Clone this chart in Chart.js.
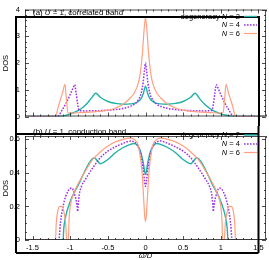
<!DOCTYPE html>
<html>
<head>
<meta charset="utf-8">
<script src="https://cdn.jsdelivr.net/npm/chart.js@4"></script>
<style>
  html, body { margin: 0; padding: 0; background: #fff; }
  #wrap { position: relative; width: 269px; height: 260px; }
  .panel { position: absolute; left: 0; width: 269px; }
</style>
</head>
<body>
<div id="wrap">
  <div class="panel" style="top:0;height:126px"><canvas id="corr" width="269" height="126"></canvas></div>
  <div class="panel" style="top:126px;height:134px"><canvas id="cond" width="269" height="134"></canvas></div>
</div>
<script>
// --- DATA ---
const xTickVals = [-1.5, -1, -0.5, 0, 0.5, 1, 1.5];
const yTicksCorr = [0, 1, 2, 3, 4];
const yTicksCond = [0, 0.2, 0.4, 0.6];
const degLabels = ['2', '4', '6'];

// (a) correlated band
const corrX_N2 = [-1.6, -1.15, -1.05, -0.95, -0.85, -0.78, -0.72, -0.66, -0.6, -0.5, -0.4, -0.3, -0.2, -0.12, -0.06, -0.03, 0, 0.03, 0.06, 0.12, 0.2, 0.3, 0.4, 0.5, 0.6, 0.66, 0.72, 0.8, 0.9, 1.0, 1.1, 1.15, 1.6];
const corrY_N2 = [0, 0, 0.05, 0.15, 0.3, 0.48, 0.68, 0.87, 0.72, 0.56, 0.49, 0.46, 0.47, 0.52, 0.66, 0.85, 1.13, 0.85, 0.66, 0.52, 0.47, 0.46, 0.49, 0.56, 0.72, 0.87, 0.66, 0.42, 0.22, 0.1, 0.03, 0, 0];

const corrX_N4 = [-1.6, -1.17, -1.1, -1.05, -1.0, -0.96, -0.94, -0.92, -0.9, -0.88, -0.8, -0.6, -0.4, -0.3, -0.2, -0.15, -0.1, -0.06, -0.03, -0.015, 0, 0.015, 0.03, 0.06, 0.1, 0.15, 0.2, 0.3, 0.4, 0.6, 0.8, 0.88, 0.9, 0.92, 0.94, 0.96, 1.0, 1.05, 1.1, 1.17, 1.6];
const corrY_N4 = [0, 0, 0.28, 0.52, 0.82, 1.08, 1.19, 0.85, 0.45, 0.22, 0.21, 0.22, 0.26, 0.3, 0.38, 0.46, 0.6, 0.85, 1.3, 1.7, 2.0, 1.7, 1.3, 0.85, 0.6, 0.46, 0.38, 0.3, 0.26, 0.22, 0.21, 0.22, 0.45, 0.85, 1.19, 1.08, 0.82, 0.52, 0.28, 0, 0];

const corrX_N6 = [-1.6, -1.2, -1.15, -1.1, -1.07, -1.05, -1.03, -1.0, -0.9, -0.7, -0.5, -0.4, -0.3, -0.2, -0.15, -0.1, -0.07, -0.04, -0.02, 0, 0.02, 0.04, 0.07, 0.1, 0.15, 0.2, 0.3, 0.4, 0.5, 0.7, 0.9, 1.0, 1.03, 1.05, 1.07, 1.1, 1.15, 1.2, 1.6];
const corrY_N6 = [0, 0, 0.45, 0.9, 1.2, 0.65, 0.13, 0.13, 0.14, 0.17, 0.24, 0.32, 0.45, 0.7, 0.88, 1.2, 1.6, 2.4, 3.2, 3.7, 3.2, 2.4, 1.6, 1.2, 0.88, 0.7, 0.45, 0.32, 0.24, 0.17, 0.14, 0.13, 0.13, 0.65, 1.2, 0.9, 0.45, 0, 0];

// (b) conduction band
const condX_N2 = [-1.6, -1.095, -1.085, -1.07, -1.0, -0.89, -0.76, -0.68, -0.6, -0.5, -0.4, -0.3, -0.2, -0.15, -0.1, -0.06, -0.03, 0, 0.03, 0.06, 0.1, 0.15, 0.2, 0.3, 0.4, 0.5, 0.6, 0.68, 0.76, 0.89, 1.0, 1.07, 1.085, 1.095, 1.6];
const condY_N2 = [0, 0, 0.07, 0.12, 0.23, 0.33, 0.45, 0.49, 0.455, 0.48, 0.52, 0.55, 0.57, 0.575, 0.56, 0.52, 0.46, 0.39, 0.46, 0.52, 0.56, 0.575, 0.57, 0.55, 0.52, 0.48, 0.455, 0.49, 0.45, 0.33, 0.23, 0.12, 0.07, 0, 0];

const condX_N4 = [-1.6, -1.15, -1.13, -1.09, -1.03, -0.98, -0.94, -0.91, -0.9, -0.895, -0.88, -0.85, -0.8, -0.7, -0.6, -0.5, -0.4, -0.3, -0.2, -0.15, -0.1, -0.06, -0.03, -0.015, 0, 0.015, 0.03, 0.06, 0.1, 0.15, 0.2, 0.3, 0.4, 0.5, 0.6, 0.7, 0.8, 0.85, 0.88, 0.895, 0.9, 0.91, 0.94, 0.98, 1.03, 1.09, 1.13, 1.15, 1.6];
const condY_N4 = [0, 0, 0.1, 0.21, 0.29, 0.31, 0.27, 0.21, 0.17, 0.2, 0.27, 0.32, 0.36, 0.43, 0.49, 0.53, 0.555, 0.575, 0.59, 0.585, 0.56, 0.5, 0.42, 0.36, 0.32, 0.36, 0.42, 0.5, 0.56, 0.585, 0.59, 0.575, 0.555, 0.53, 0.49, 0.43, 0.36, 0.32, 0.27, 0.2, 0.17, 0.21, 0.27, 0.31, 0.29, 0.21, 0.1, 0, 0];

const condX_N6 = [-1.6, -1.195, -1.185, -1.17, -1.14, -1.11, -1.08, -1.06, -1.045, -1.025, -1.015, -1.0, -0.95, -0.9, -0.8, -0.7, -0.6, -0.5, -0.4, -0.3, -0.2, -0.15, -0.1, -0.07, -0.045, -0.025, -0.01, 0, 0.01, 0.025, 0.045, 0.07, 0.1, 0.15, 0.2, 0.3, 0.4, 0.5, 0.6, 0.7, 0.8, 0.9, 0.95, 1.0, 1.015, 1.025, 1.045, 1.06, 1.08, 1.11, 1.14, 1.17, 1.185, 1.195, 1.6];
const condY_N6 = [0, 0, 0.1, 0.16, 0.2, 0.2, 0.16, 0.1, 0, 0, 0.12, 0.2, 0.28, 0.33, 0.41, 0.48, 0.525, 0.56, 0.585, 0.6, 0.607, 0.6, 0.57, 0.5, 0.4, 0.25, 0.14, 0.11, 0.14, 0.25, 0.4, 0.5, 0.57, 0.6, 0.607, 0.6, 0.585, 0.56, 0.525, 0.48, 0.41, 0.33, 0.28, 0.2, 0.12, 0, 0, 0.1, 0.16, 0.2, 0.2, 0.16, 0.1, 0, 0];

// --- STYLE ---
const TEAL = '#20b2a6', PURPLE = '#9b30f0', SALMON = '#ffa080';
const FONT = '"Liberation Sans", Arial, sans-serif';
Chart.defaults.font.family = FONT;
Chart.defaults.color = '#000';

const pts = (xs, ys) => xs.map((x, i) => ({ x, y: ys[i] }));

const mkSets = (d2, d4, d6) => [
    { data: d2, borderColor: TEAL, borderWidth: 1.4, order: 3 },
    { data: d4, borderColor: PURPLE, borderWidth: 1.5, borderDash: [1.6, 1.4], order: 2 },
    { data: d6, borderColor: SALMON, borderWidth: 1.2, order: 1 }
].map(s => ({ ...s, pointRadius: 0, fill: false, cubicInterpolationMode: 'monotone' }));

// draw rich text pieces [text, italic] right-aligned at xr
function richText(ctx, parts, x, y, size, align) {
    const fnt = it => `${it ? 'italic ' : ''}${size}px ${FONT}`;
    let w = 0;
    parts.forEach(([t, it]) => { ctx.font = fnt(it); w += ctx.measureText(t).width; });
    let cx = align === 'right' ? x - w : x;
    ctx.textBaseline = 'middle'; ctx.textAlign = 'left'; ctx.fillStyle = '#000';
    parts.forEach(([t, it]) => { ctx.font = fnt(it); ctx.fillText(t, cx, y); cx += ctx.measureText(t).width; });
}

const deco = {
    id: 'deco',
    afterDraw(chart, args, o) {
        const { ctx, chartArea: a, scales: { x, y } } = chart;
        ctx.save();
        // thin frame + inward ticks
        ctx.strokeStyle = '#222'; ctx.lineWidth = 0.8;
        ctx.strokeRect(a.left + 0.5, a.top + 0.5, a.right - a.left - 1, a.bottom - a.top - 1);
        ctx.beginPath();
        for (let i = -16; i <= 16; i++) {
            const px = Math.round(x.getPixelForValue(i / 10)) + 0.5, len = i % 5 === 0 ? 4 : 2;
            ctx.moveTo(px, a.bottom); ctx.lineTo(px, a.bottom - len);
            ctx.moveTo(px, a.top); ctx.lineTo(px, a.top + len);
        }
        for (let i = 0; i <= o.yN; i++) {
            const v = i * o.yMinor;
            if (v > y.max + 1e-9) break;
            const py = Math.round(y.getPixelForValue(v)) + 0.5, len = i % o.yEvery === 0 ? 4 : 2;
            ctx.moveTo(a.left, py); ctx.lineTo(a.left + len, py);
            ctx.moveTo(a.right, py); ctx.lineTo(a.right - len, py);
        }
        ctx.stroke();
        // thick outer lines
        ctx.strokeStyle = '#000'; ctx.lineWidth = 2;
        ctx.beginPath();
        o.thick.forEach(([x1, y1, x2, y2]) => { ctx.moveTo(x1, y1); ctx.lineTo(x2, y2); });
        ctx.stroke();
        // panel label
        richText(ctx, o.label, 33, o.labelY, 7.9, 'left');
        // key
        chart.data.datasets.forEach((ds, i) => {
            const ry = o.keyY[i];
            const parts = (i === 0 ? [['degeneracy ', false]] : []).concat([['N', true], [' = ' + degLabels[i], false]]);
            richText(ctx, parts, 240, ry, 7.5, 'right');
            ctx.strokeStyle = ds.borderColor; ctx.lineWidth = ds.borderWidth;
            ctx.setLineDash(ds.borderDash || []);
            ctx.beginPath(); ctx.moveTo(244, ry); ctx.lineTo(257, ry); ctx.stroke();
            ctx.setLineDash([]);
        });
        ctx.restore();
    }
};

const yScale = (ticks, max) => ({
    type: 'linear', min: 0, max,
    afterBuildTicks: s => { s.ticks = ticks.map(v => ({ value: v })); },
    afterFit: s => { s.width = 25; },
    grid: { display: false, drawTicks: false },
    border: { display: false },
    ticks: { font: { size: 7.5 }, padding: 5, callback: v => String(v) },
    title: { display: true, text: 'DOS', font: { size: 7.5 }, padding: { top: 1.5, bottom: 0 } }
});

new Chart(document.getElementById('corr'), {
    type: 'line',
    data: { datasets: mkSets(pts(corrX_N2, corrY_N2), pts(corrX_N4, corrY_N4), pts(corrX_N6, corrY_N6)) },
    options: {
        responsive: false, animation: false,
        layout: { padding: { left: 0, right: 3, top: 4, bottom: 4 } },
        scales: {
            x: { type: 'linear', min: -1.6, max: 1.6, display: false },
            y: yScale(yTicksCorr, 4)
        },
        plugins: {
            legend: { display: false }, tooltip: { enabled: false },
            deco: {
                yN: 20, yMinor: 0.2, yEvery: 5,
                thick: [[16, 17, 259, 17], [16, 16, 16, 126], [259, 16, 259, 126]],
                label: [['(a) ', false], ['U', true], [' = 1, correlated band', false]], labelY: 12.5,
                keyY: [16.5, 25, 33.5]
            }
        }
    },
    plugins: [deco]
});

new Chart(document.getElementById('cond'), {
    type: 'line',
    data: { datasets: mkSets(pts(condX_N2, condY_N2), pts(condX_N4, condY_N4), pts(condX_N6, condY_N6)) },
    options: {
        responsive: false, animation: false,
        layout: { padding: { left: 0, right: 3, top: 10, bottom: 0 } },
        scales: {
            x: {
                type: 'linear', min: -1.6, max: 1.6,
                afterBuildTicks: s => { s.ticks = xTickVals.map(v => ({ value: v })); },
                afterFit: s => { s.height = 20; },
                grid: { display: false, drawTicks: false },
                border: { display: false },
                ticks: { font: { size: 7.5 }, padding: 3, maxRotation: 0, autoSkip: false, callback: v => String(v) },
                title: { display: true, text: 'ω/D', font: { size: 7.5, style: 'italic' }, padding: { top: 0, bottom: 0 } }
            },
            y: yScale(yTicksCond, 0.62)
        },
        plugins: {
            legend: { display: false }, tooltip: { enabled: false },
            deco: {
                yN: 12, yMinor: 0.05, yEvery: 4,
                thick: [[16, 8, 259, 8], [16, 0, 16, 127], [258.5, 0, 258.5, 127], [16, 127, 258.5, 127]],
                label: [['(b) ', false], ['U', true], [' = 1, conduction band', false]], labelY: 5.5,
                keyY: [9, 18, 26.5]
            }
        }
    },
    plugins: [deco]
});
</script>
</body>
</html>
